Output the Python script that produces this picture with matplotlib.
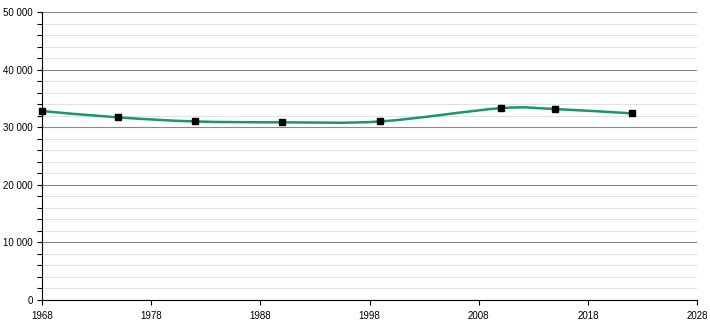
import matplotlib
matplotlib.use("Agg")
import matplotlib.pyplot as plt
import numpy as np
from matplotlib.path import Path
from matplotlib.patches import PathPatch
from matplotlib.ticker import FuncFormatter, MultipleLocator

# census years and population
years = [1968, 1975, 1982, 1990, 1999, 2010, 2015, 2022]
population = [32800, 31700, 31000, 30850, 31000, 33300, 33150, 32400]

x_ticks = [1968, 1978, 1988, 1998, 2008, 2018, 2028]

plt.rcParams["font.family"] = ["Liberation Sans", "DejaVu Sans"]

fig = plt.figure(figsize=(7.1, 3.2), dpi=100)
ax = fig.add_axes([42 / 710, 20 / 320, 655 / 710, 288 / 320])

# smooth curve through the points (Catmull-Rom as cubic Bezier segments)
pts = np.column_stack([years, population]).astype(float)
verts = [tuple(pts[0])]
codes = [Path.MOVETO]
for i in range(len(pts) - 1):
    p0 = pts[i - 1] if i > 0 else pts[i]
    p1 = pts[i]
    p2 = pts[i + 1]
    p3 = pts[i + 2] if i + 2 < len(pts) else pts[i + 1]
    c1 = p1 + (p2 - p0) / 6
    c2 = p2 - (p3 - p1) / 6
    verts += [tuple(c1), tuple(c2), tuple(p2)]
    codes += [Path.CURVE4] * 3
ax.add_patch(PathPatch(Path(verts, codes), fill=False, edgecolor="#17966f",
                       linewidth=1.8, zorder=3))

ax.plot(years, population, linestyle="none", marker="s", markersize=3.8,
        color="black", zorder=4, clip_on=False)

ax.set_xlim(1968, 2028)
ax.set_ylim(0, 50000)
ax.set_xticks(x_ticks)
ax.yaxis.set_major_locator(MultipleLocator(10000))
ax.yaxis.set_minor_locator(MultipleLocator(2000))
ax.yaxis.set_major_formatter(FuncFormatter(lambda v, p: f"{int(v):,}".replace(",", " ")))

ax.grid(axis="y", which="major", color="#888888", linewidth=0.8)
ax.grid(axis="y", which="minor", color="#e2e2e2", linewidth=0.8)
ax.set_axisbelow(True)

for side in ["top", "right"]:
    ax.spines[side].set_visible(False)
ax.spines["left"].set_color("black")
ax.spines["bottom"].set_color("black")

ax.tick_params(axis="both", which="major", labelsize=7, length=3.6, width=0.8)
ax.tick_params(axis="x", which="major", pad=4.5)
ax.tick_params(axis="y", which="major", pad=3)
ax.tick_params(axis="y", which="minor", length=3.6, width=0.8)

fig.savefig("out.png", dpi=100)
